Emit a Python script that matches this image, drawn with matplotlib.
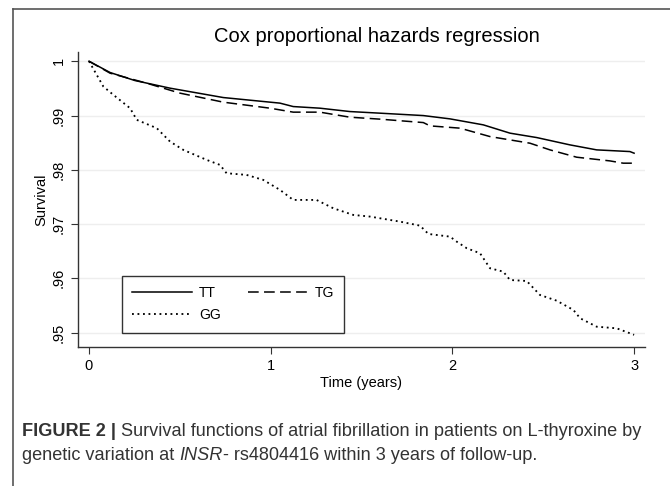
import matplotlib.pyplot as plt
from matplotlib.lines import Line2D

plt.rcParams['font.family'] = ['Liberation Sans', 'DejaVu Sans']

# survival estimates (time in years)
t_tt = [0, 0.116, 0.253, 0.446, 0.739, 1.051, 1.124, 1.271, 1.436, 1.602,
        1.840, 1.987, 2.170, 2.317, 2.464, 2.647, 2.794, 2.977, 3.0]
s_tt = [1, .99792, .99644, .99504, .99331, .99228, .99165, .99135, .99073, .99043,
        .98999, .98938, .98828, .98675, .98594, .98459, .98367, .98336, .98306]

t_tg = [0, 0.116, 0.317, 0.501, 0.739, 0.996, 1.124, 1.271, 1.436, 1.602,
        1.840, 1.877, 2.042, 2.207, 2.427, 2.537, 2.684, 2.867, 2.940, 3.0]
s_tg = [1, .99780, .99596, .99412, .99246, .99135, .99062, .99062, .98969, .98933,
        .98870, .98809, .98767, .98612, .98490, .98367, .98232, .98164, .98122, .98122]

t_gg = [0, 0.079, 0.134, 0.226, 0.263, 0.373, 0.446, 0.519, 0.648, 0.721,
        0.757, 0.867, 0.959, 1.051, 1.124, 1.252, 1.344, 1.454, 1.547, 1.712,
        1.822, 1.868, 1.987, 2.024, 2.079, 2.152, 2.207, 2.280, 2.317, 2.409,
        2.482, 2.574, 2.666, 2.703, 2.794, 2.904, 3.0]
s_gg = [1, .99534, .99381, .99135, .98920, .98767, .98520, .98367, .98182, .98090,
        .97937, .97906, .97814, .97630, .97445, .97445, .97292, .97169, .97138, .97045,
        .96971, .96818, .96769, .96676, .96555, .96463, .96186, .96124, .95970, .95952,
        .95694, .95589, .95418, .95265, .95110, .95080, .9496]

x_ticks = [0, 1, 2, 3]
y_ticks = [1, .99, .98, .97, .96, .95]
y_labels = ['1', '.99', '.98', '.97', '.96', '.95']

W, H = 670, 486
fig = plt.figure(figsize=(W / 100, H / 100), dpi=100)
ax = fig.add_axes([78 / W, 1 - 346.5 / H, (645 - 78) / W, (346.5 - 52) / H])

# gridlines first so curves sit on top
for y in y_ticks:
    ax.axhline(y, color='#eeeeee', lw=1.0, zorder=0)

lw = 1.1
dot = (0, (1.0, 2.0))
dash = (0, (7, 3.5))
ax.plot(t_tt, s_tt, color='black', lw=lw, ls='-')
ax.plot(t_tg, s_tg, color='black', lw=lw, ls=dash)
ax.plot(t_gg, s_gg, color='black', lw=lw * 1.2, ls=dot)

ax.set_xlim(-0.0605, 3.06)
ax.set_ylim(0.94745, 1.0017)
ax.set_xticks(x_ticks)
ax.set_yticks(y_ticks)
ax.set_yticklabels(y_labels, rotation=90, va='center')
ax.tick_params(direction='out', length=5, width=0.8, color='#333333',
               labelsize=10.5, pad=4)
for side in ['top', 'right']:
    ax.spines[side].set_visible(False)
for side in ['left', 'bottom']:
    ax.spines[side].set_color('#333333')
    ax.spines[side].set_linewidth(1.0)

ax.set_xlabel('Time (years)', fontsize=10.5, labelpad=2)
ax.set_ylabel('Survival', fontsize=10.5, labelpad=2)

handles = [Line2D([], [], color='black', lw=lw, ls='-'),
           Line2D([], [], color='black', lw=lw * 1.2, ls=dot),
           Line2D([], [], color='black', lw=lw, ls=dash)]
leg = ax.legend(handles, ['TT', 'GG', 'TG'], ncol=2, loc='lower left',
                bbox_to_anchor=((122 - 78) / 567, (346.5 - 332.7) / 294.5),
                fontsize=10, frameon=True, fancybox=False, handlelength=4.3,
                borderpad=0.75, columnspacing=1.95, handletextpad=0.5,
                labelspacing=0.6, borderaxespad=0)
leg.get_frame().set_edgecolor('black')
leg.get_frame().set_linewidth(1.0)

# outer frame (top and left edges only visible)
fig.add_artist(Line2D([13 / W, 1], [1 - 9 / H, 1 - 9 / H],
                      color='#555555', lw=1.2, transform=fig.transFigure))
fig.add_artist(Line2D([13 / W, 13 / W], [0, 1 - 9 / H],
                      color='#555555', lw=1.2, transform=fig.transFigure))

fig.canvas.draw()
renderer = fig.canvas.get_renderer()

# title, sized to the width measured on the reference
title = fig.text(377 / W, 1 - 37 / H, 'Cox proportional hazards regression',
                 ha='center', va='center', fontsize=15)
tw = title.get_window_extent(renderer).width
title.set_fontsize(15 * 325 / tw)

# caption with mixed styles
cap_color = '#333333'
line1 = [('FIGURE 2 | ', 'bold', 'normal'),
         ('Survival functions of atrial fibrillation in patients on L-thyroxine by',
          'normal', 'normal')]
line2 = [('genetic variation at ', 'normal', 'normal'),
         ('INSR', 'normal', 'italic'),
         ('- rs4804416 within 3 years of follow-up.', 'normal', 'normal')]


def put_line(pieces, x0, y0, size):
    x = x0
    arts = []
    for txt, weight, style in pieces:
        t = fig.text(x / W, y0, txt, fontsize=size, color=cap_color,
                     fontweight=weight, fontstyle=style, va='center')
        x = t.get_window_extent(renderer).x1
        arts.append(t)
    return arts, x - x0


arts, width = put_line(line1, 22, 1 - 431 / H, 12)
for a in arts:
    a.remove()
cap_size = 12 * (643 - 22) / width
put_line(line1, 22, 1 - 431 / H, cap_size)
put_line(line2, 22, 1 - 456 / H, cap_size)

fig.savefig('out.png', dpi=100)
